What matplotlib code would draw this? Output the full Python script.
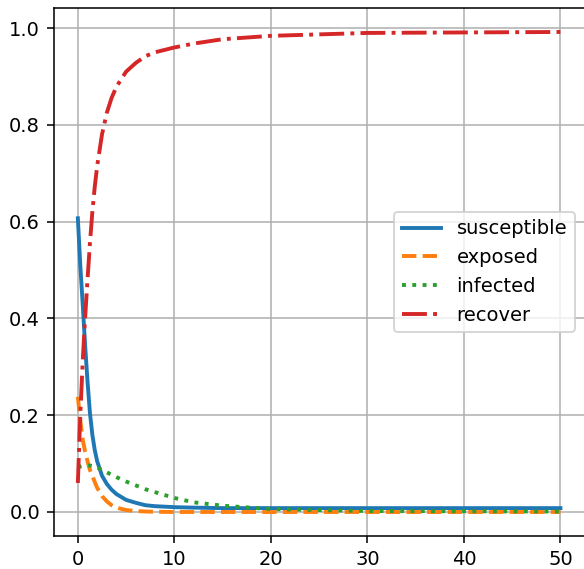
import matplotlib
matplotlib.use("Agg")
import matplotlib.pyplot as plt

# sample days, denser near the start where the curves change fast
t = [0, 0.25, 0.5, 0.75, 1.0, 1.25, 1.5, 1.75, 2.0, 2.5, 3.0, 3.5, 4.0, 5.0, 6.0,
     7.0, 8.0, 10, 12, 15, 20, 30, 40, 50]

susceptible = [0.607, 0.51, 0.43, 0.345, 0.27, 0.205, 0.16, 0.128, 0.105, 0.075,
               0.058, 0.046, 0.037, 0.025, 0.019, 0.014, 0.012, 0.010, 0.009,
               0.008, 0.008, 0.008, 0.008, 0.008]
exposed = [0.238, 0.19, 0.15, 0.125, 0.105, 0.087, 0.075, 0.062, 0.050, 0.033,
           0.022, 0.014, 0.009, 0.004, 0.002, 0.001, 0.0005, 0.0, 0.0, 0.0,
           0.0, 0.0, 0.0, 0.0]
infected = [0.092, 0.094, 0.095, 0.096, 0.096, 0.096, 0.095, 0.094, 0.092, 0.087,
            0.082, 0.077, 0.072, 0.063, 0.055, 0.047, 0.041, 0.029, 0.020,
            0.013, 0.006, 0.002, 0.0015, 0.001]
recover = [0.06, 0.20, 0.31, 0.40, 0.48, 0.555, 0.62, 0.672, 0.715, 0.78, 0.825,
           0.856, 0.879, 0.91, 0.928, 0.942, 0.95, 0.96, 0.968, 0.977, 0.984,
           0.99, 0.991, 0.992]

plt.rcParams['font.family'] = ['DejaVu Sans']

fig = plt.figure(figsize=(584 / 140, 569 / 140), dpi=140)
ax = fig.add_axes([0.092, 0.058, 0.909, 0.928])

ax.plot(t, susceptible, lw=2, label="susceptible")
ax.plot(t, exposed, lw=2, ls="--", label="exposed")
ax.plot(t, infected, lw=2, ls=":", label="infected")
ax.plot(t, recover, lw=2, ls="-.", label="recover")

ax.grid()
ax.legend(loc="center right")

plt.savefig("out.png", dpi=140)
